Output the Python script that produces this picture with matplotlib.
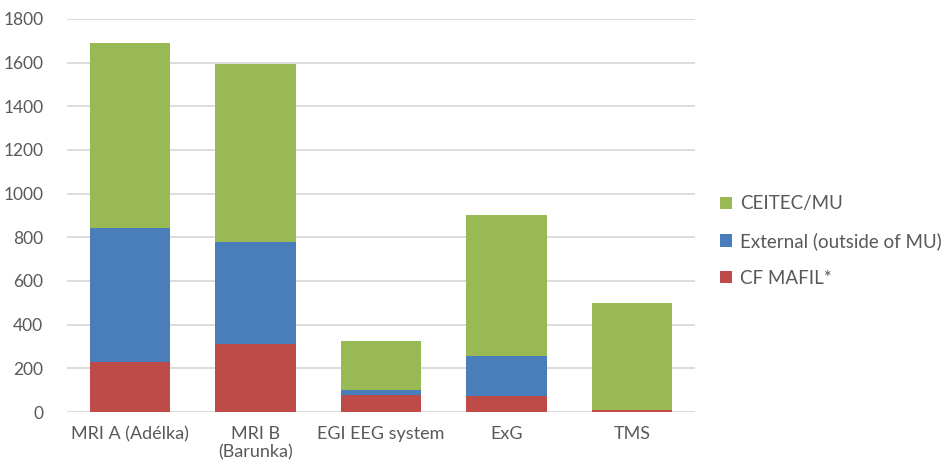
import matplotlib.pyplot as plt
import numpy as np

categories = ['MRI A (Adélka)', 'MRI B\n(Barunka)', 'EGI EEG system', 'ExG', 'TMS']
cf_mafil = [230, 310, 80, 75, 10]
external = [615, 470, 22, 183, 0]
ceitec_mu = [845, 815, 225, 642, 490]

colors = {'CF MAFIL*': '#BE4B48', 'External (outside of MU)': '#4A7EBB', 'CEITEC/MU': '#98B954'}

plt.rcParams['font.family'] = ['Lato', 'DejaVu Sans']

fig = plt.figure(figsize=(9.5, 4.7), dpi=100)
ax = fig.add_axes([0.0705, 0.1234, 0.661, 0.8362])

x = np.arange(len(categories))
w = 0.64
b1 = ax.bar(x, cf_mafil, w, color=colors['CF MAFIL*'], label='CF MAFIL*', zorder=3)
b2 = ax.bar(x, external, w, bottom=cf_mafil, color=colors['External (outside of MU)'],
            label='External (outside of MU)', zorder=3)
bottom2 = np.array(cf_mafil) + np.array(external)
b3 = ax.bar(x, ceitec_mu, w, bottom=bottom2, color=colors['CEITEC/MU'], label='CEITEC/MU', zorder=3)

ax.set_xlim(-0.5, len(categories) - 0.5)
ax.set_ylim(0, 1800)
ax.set_yticks(range(0, 1801, 200))
ax.yaxis.grid(True, color='#d9d9d9', linewidth=1.3, zorder=0)
ax.set_axisbelow(True)
for s in ax.spines.values():
    s.set_visible(False)
ax.tick_params(axis='both', length=0, labelsize=13, labelcolor='#595959')
ax.tick_params(axis='y', pad=17, labelsize=12.5)
ax.tick_params(axis='x', pad=10)
ax.set_xticks(x)
ax.set_xticklabels(categories)

ax.legend([b3, b2, b1], ['CEITEC/MU', 'External (outside of MU)', 'CF MAFIL*'],
          loc='center left', bbox_to_anchor=(0.74, 0.487), bbox_transform=fig.transFigure,
          frameon=False, fontsize=13.5, labelcolor='#595959',
          handlelength=0.65, handleheight=0.65, handletextpad=0.45, labelspacing=1.05)

fig.savefig('out.png', dpi=100)
